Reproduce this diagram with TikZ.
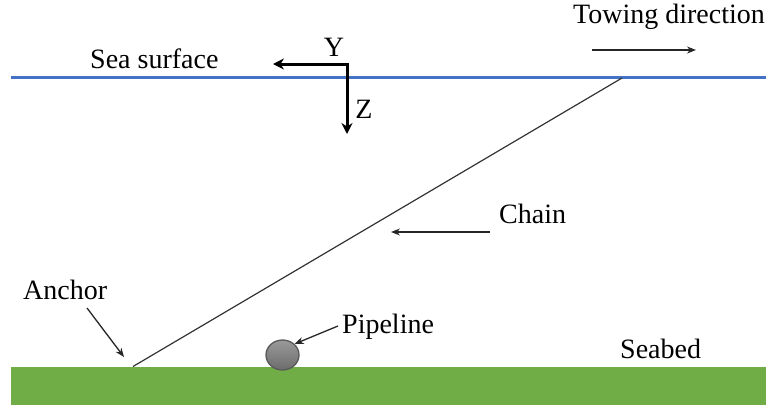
\documentclass[tikz,border=0pt]{standalone}
\usepackage{fontspec}
\setmainfont{Liberation Serif}
\usetikzlibrary{arrows.meta,shapes.geometric}
\definecolor{seablue}{RGB}{68,114,196}
\definecolor{seagreen}{RGB}{112,173,71}
\definecolor{pipegray}{RGB}{128,128,128}
\tikzset{
  lbl/.style={font=\fontsize{28}{30}\selectfont, inner sep=0pt, anchor=base west},
  pointer/.style={draw=black!85, line width=1.3pt, -{Stealth[length=9pt,width=7pt]}},
  axis/.style={draw=black, line width=3pt, -{Stealth[length=11pt,width=11pt]}},
}
\begin{document}
\begin{tikzpicture}[x=1pt,y=-1pt]
\useasboundingbox (0,0) rectangle (766,405);
% seabed
\fill[seagreen] (11,366.5) rectangle (766,405);
% sea surface
\draw[seablue, line width=3pt] (11,77.5) -- (766,77.5);
% chain
\coordinate (chainlow) at (133,366.5);
\coordinate (chainhigh) at (622,78);
\draw[black!80, line width=1.2pt] (chainlow) -- (chainhigh);
% pipeline
\node (pipe) [ellipse, draw=black!65, line width=1.3pt, top color=pipegray!80, bottom color=pipegray!85!black, minimum width=33pt, minimum height=30pt, inner sep=0pt] at (282.5,355) {};
% labels
\node (sea) [lbl] at (90,68) {Sea surface};
\node (tow) [lbl] at (573,23) {Towing direction};
\node (chain) [lbl] at (499,223) {Chain};
\node (anchor) [lbl] at (23,299) {Anchor};
\node (pipel) [lbl] at (342,333) {Pipeline};
\node (seabed) [lbl] at (620,358) {Seabed};
\node (ylab) [lbl, anchor=base] at (334,56) {Y};
\node (zlab) [lbl, anchor=base] at (364,118) {Z};
% axes
\coordinate (origin) at (347,64);
\coordinate (ytip) at (273,64);
\coordinate (ztip) at (347,134);
\draw[axis] ([xshift=1.5pt]origin) -- (ytip);
\draw[axis] (origin) -- (ztip);
% pointers
\coordinate (towa) at (592,50);
\coordinate (towb) at (696,50);
\draw[pointer] (towa) -- (towb);
\coordinate (chaina) at (490,232);
\coordinate (chainb) at (391,232);
\draw[pointer] (chaina) -- (chainb);
\coordinate (anca) at (87,308);
\coordinate (ancb) at (124,357);
\draw[pointer] (anca) -- (ancb);
\coordinate (pipea) at (338,326);
\draw[pointer] (pipea) -- (pipe.north east);
\end{tikzpicture}
\end{document}
